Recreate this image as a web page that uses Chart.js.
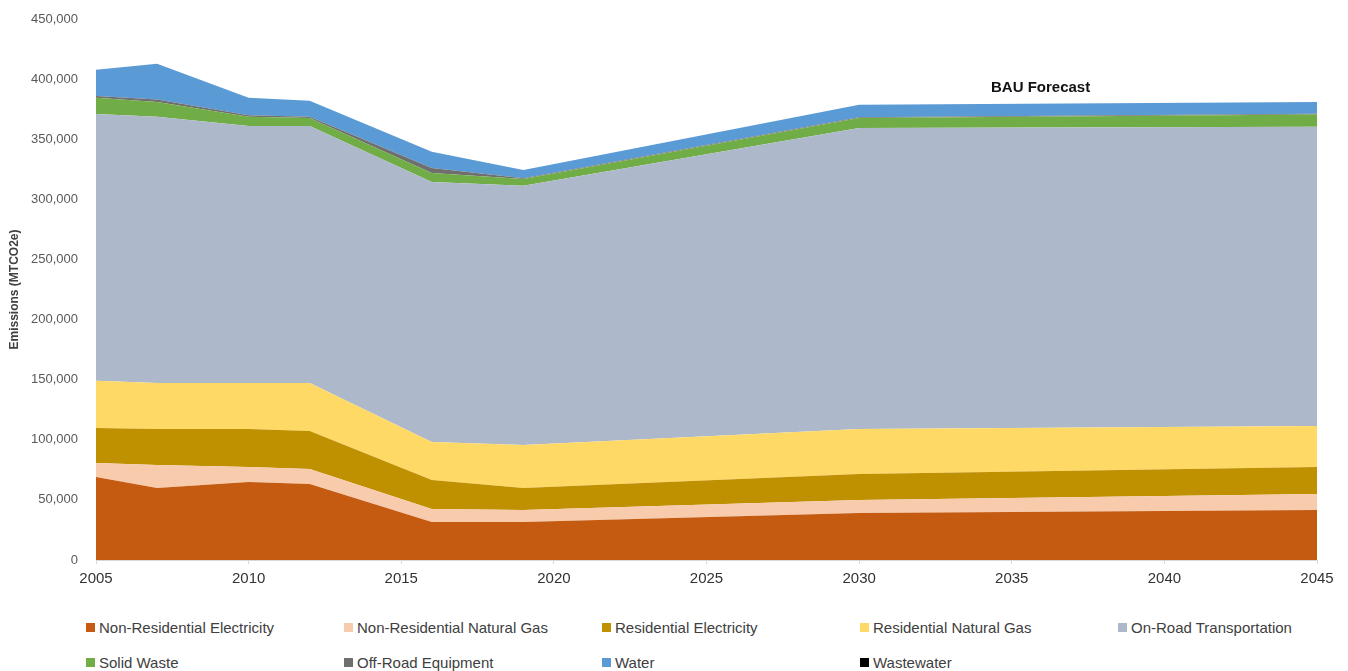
<!DOCTYPE html>
<html>
<head>
<meta charset="utf-8">
<script src="https://cdn.jsdelivr.net/npm/chart.js@4/dist/chart.umd.min.js"></script>
<style>
  body { margin: 0; background: #fff; font-family: "Liberation Sans Narrow", "Liberation Sans", sans-serif; }
  #wrap { position: relative; width: 1348px; height: 671px; }
  #chart { position: absolute; left: 0; top: 0; }
  #note { position: absolute; left: 991px; top: 78px; font: bold 15px "Liberation Sans Narrow", "Liberation Sans", sans-serif; color: #111; }
  #legend { position: absolute; left: 86px; top: 617px; display: grid; grid-template-columns: repeat(5, 258px); row-gap: 15px; }
  .item { display: flex; align-items: center; font-size: 15px; color: #404040; height: 20px; }
  .box { width: 9px; height: 9px; margin-right: 4px; }
</style>
</head>
<body>
<div id="wrap">
  <canvas id="chart" width="1348" height="600"></canvas>
  <div id="note">BAU Forecast</div>
  <div id="legend"></div>
</div>
<script>
const years = [2005, 2007, 2010, 2012, 2016, 2019, 2030, 2045];

const nonResElectricity = [69000, 59900, 64900, 63200, 31600, 31600, 39100, 41600];
const nonResNaturalGas  = [11700, 19100, 12500, 12500, 10800, 10000, 10800, 13300];
const resElectricity    = [29100, 30000, 31600, 31600, 24200, 18300, 21700, 22500];
const resNaturalGas     = [39200, 38300, 38300, 40000, 31600, 35800, 37400, 34100];
const onRoad            = [222000, 221300, 213700, 213700, 216300, 215500, 250400, 248800];
const solidWaste        = [13400, 12400, 7600, 6700, 7500, 5800, 8300, 10300];
const offRoad           = [1600, 2000, 1400, 900, 4100, 500, 500, 500];
const water             = [21700, 29700, 14400, 13300, 13400, 7000, 10400, 9900];
const wastewater        = [0, 0, 0, 0, 0, 0, 0, 0];

const seriesNames = ['Non-Residential Electricity', 'Non-Residential Natural Gas', 'Residential Electricity',
  'Residential Natural Gas', 'On-Road Transportation', 'Solid Waste', 'Off-Road Equipment', 'Water', 'Wastewater'];
const seriesValues = [nonResElectricity, nonResNaturalGas, resElectricity, resNaturalGas, onRoad,
  solidWaste, offRoad, water, wastewater];
const seriesColors = ['#c55a11', '#f8cbad', '#bf9000', '#ffd966', '#adb9ca', '#70ad47', '#6f6f6f', '#5b9bd5', '#000000'];

const datasets = seriesNames.map((name, i) => ({
  label: name,
  data: years.map((y, j) => ({ x: y, y: seriesValues[i][j] })),
  backgroundColor: seriesColors[i],
  borderColor: seriesColors[i],
  borderWidth: 0,
  pointRadius: 0,
  tension: 0,
  fill: i === 0 ? 'origin' : '-1'
}));

const ctx = document.getElementById('chart').getContext('2d');
new Chart(ctx, {
  type: 'line',
  data: { datasets },
  options: {
    responsive: false,
    animation: false,
    layout: { padding: { top: 19, right: 31, left: 0, bottom: 0 } },
    plugins: { legend: { display: false }, tooltip: { enabled: false } },
    scales: {
      x: {
        type: 'linear',
        min: 2005,
        max: 2045,
        ticks: {
          stepSize: 5,
          padding: 6,
          color: '#333',
          font: { family: '"Liberation Sans Narrow", "Liberation Sans", sans-serif', size: 15 },
          callback: v => String(v)
        },
        grid: { drawOnChartArea: false, drawTicks: true, tickLength: 4, color: '#d9d9d9' },
        border: { color: '#d9d9d9' },
        afterFit: s => { s.height = 40; }
      },
      y: {
        stacked: true,
        min: 0,
        max: 450000,
        ticks: {
          stepSize: 50000,
          padding: 10,
          color: '#595959',
          font: { family: '"Liberation Sans", sans-serif', size: 13 },
          callback: v => v.toLocaleString('en-US')
        },
        grid: { display: false },
        border: { display: false },
        title: {
          display: true,
          text: 'Emissions (MTCO2e)',
          color: '#404040',
          padding: { top: 7, bottom: 0 },
          font: { family: '"Liberation Sans Narrow", "Liberation Sans", sans-serif', size: 12, weight: 'bold' }
        },
        afterFit: s => { s.width = 96; }
      }
    }
  }
});

const legend = document.getElementById('legend');
seriesNames.forEach((name, i) => {
  const item = document.createElement('div');
  item.className = 'item';
  item.innerHTML = '<span class="box" style="background:' + seriesColors[i] + '"></span>' + name;
  legend.appendChild(item);
});
</script>
</body>
</html>
